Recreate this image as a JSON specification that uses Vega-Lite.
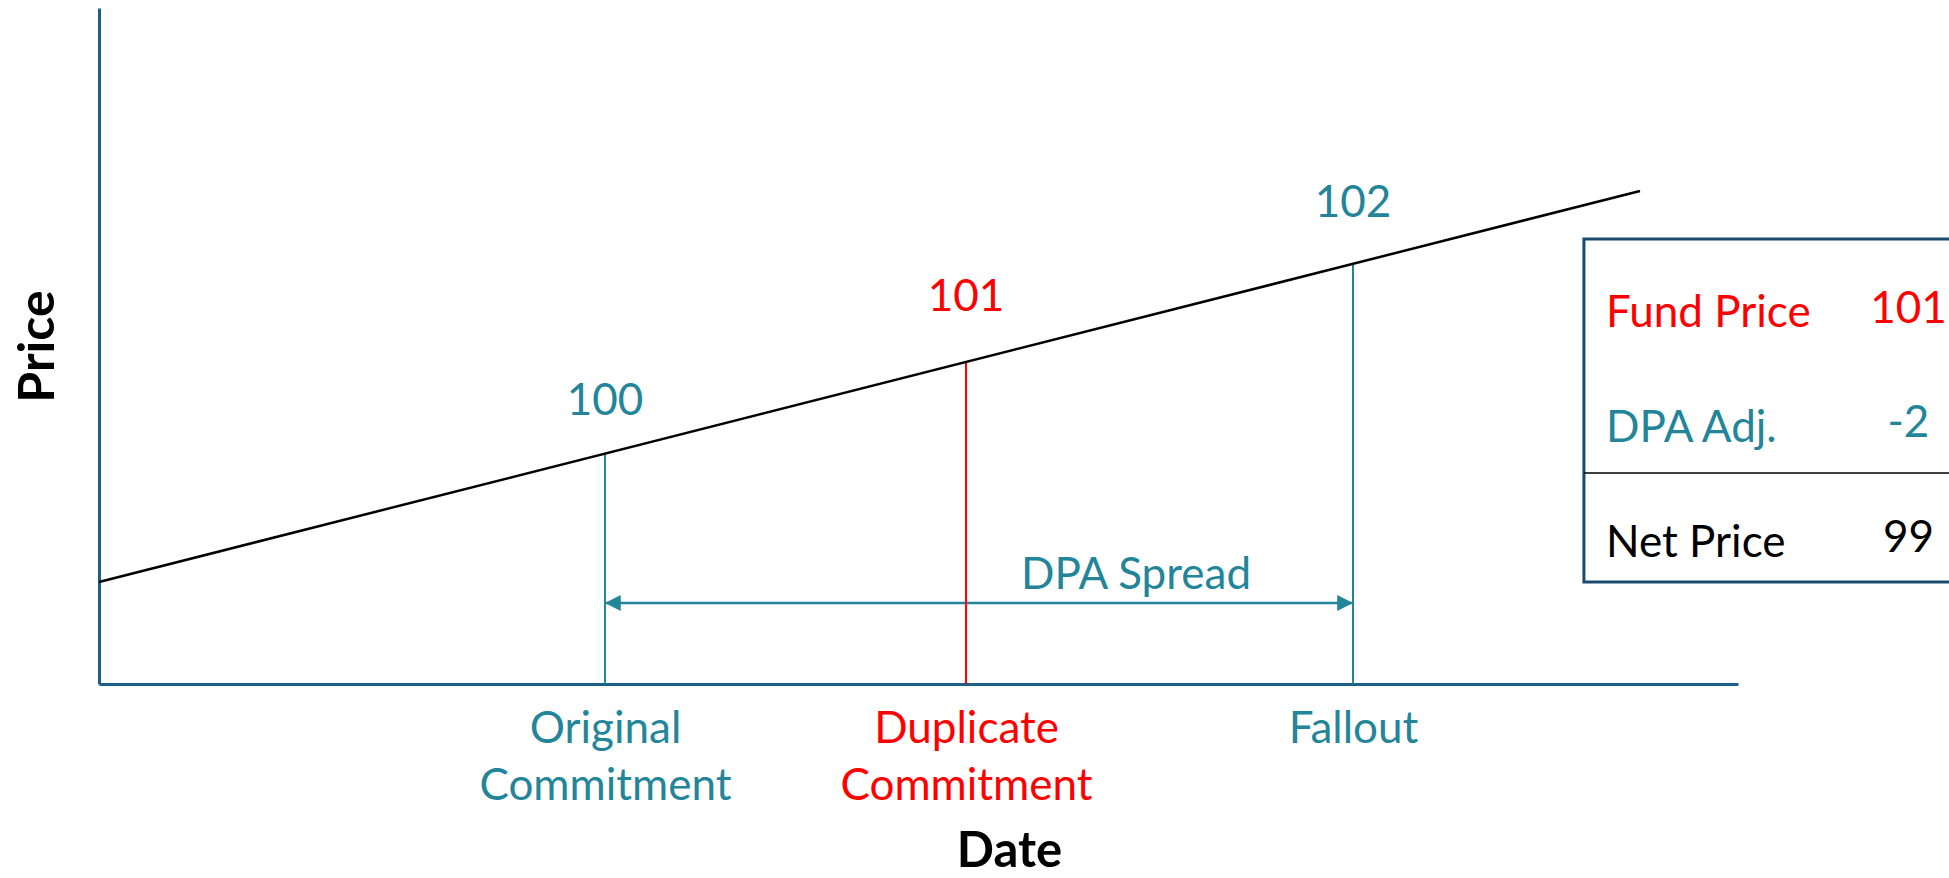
{
  "$schema": "https://vega.github.io/schema/vega-lite/v6.json",
  "width": 1639,
  "height": 676,
  "autosize": {"type": "none"},
  "padding": {"left": 99, "top": 8, "right": 211, "bottom": 194},
  "background": "white",
  "config": {"view": {"stroke": null}, "font": "Lato", "text": {"font": "Lato"}},
  "datasets": {
    "priceLine": [{"date": 0, "price": 98.617}, {"date": 94.02, "price": 102.897}],
    "events": [
      {"event": "Original Commitment", "group": "Original", "date": 30.87, "price": 100.03, "labelPrice": 100.445, "label": "100"},
      {"event": "Duplicate Commitment", "group": "Duplicate", "date": 52.9, "price": 101.025, "labelPrice": 101.578, "label": "101"},
      {"event": "Fallout", "group": "Fallout", "date": 76.51, "price": 102.098, "labelPrice": 102.612, "label": "102"}
    ],
    "spread": [{"from": 30.87, "to": 76.51, "price": 98.387, "label": "DPA Spread", "labelDate": 63.27, "labelPrice": 98.54}],
    "heads": [{"date": 30.87, "price": 98.387, "side": "left"}, {"date": 76.51, "price": 98.387, "side": "right"}],
    "table": [
      {"item": "Fund Price", "value": "101", "group": "Duplicate", "itemPrice": 101.408, "valuePrice": 101.452},
      {"item": "DPA Adj.", "value": "-2", "group": "Fallout", "itemPrice": 100.149, "valuePrice": 100.204},
      {"item": "Net Price", "value": "99", "group": "Net", "itemPrice": 98.89, "valuePrice": 98.945}
    ],
    "box": [{"left": 90.6, "right": 113.5, "top": 102.371, "bottom": 98.617, "divider": 99.81}]
  },
  "layer": [
    {
      "data": {"name": "spread"},
      "mark": {"type": "rule", "color": "#23859a", "strokeWidth": 2.5},
      "encoding": {
        "x": {"field": "from", "type": "quantitative", "scale": {"domain": [0, 100], "nice": false, "zero": false},
          "axis": {
            "title": "Date",
            "values": [30.87, 52.9, 76.51],
            "labelExpr": "datum.value < 40 ? ['Original', 'Commitment'] : datum.value < 60 ? ['Duplicate', 'Commitment'] : 'Fallout'",
            "ticks": false, "grid": false,
            "domainColor": "#1c5f8a", "domainWidth": 3,
            "labelFont": "Lato", "labelFontSize": 44, "labelLineHeight": 57, "labelPadding": 23, "labelLimit": 0,
            "labelBaseline": "top", "labelAlign": "center", "labelOverlap": false, "labelFlush": false,
            "labelColor": {"condition": {"test": "datum.value > 40 && datum.value < 60", "value": "#ff0000"}, "value": "#23859a"},
            "titleFont": "Lato", "titleFontSize": 49, "titleFontWeight": "bold", "titleColor": "#000000",
            "titleX": 910, "titleY": 182, "titleBaseline": "alphabetic", "titleAlign": "center"
          }},
        "x2": {"field": "to"},
        "y": {"field": "price", "type": "quantitative", "scale": {"domain": [97.5, 104.9], "nice": false, "zero": false},
          "axis": {
            "title": "Price", "labels": false, "ticks": false, "grid": false,
            "domainColor": "#1c5f8a", "domainWidth": 3,
            "titleFont": "Lato", "titleFontSize": 50, "titleFontWeight": "bold", "titleColor": "#000000",
            "titleX": -46, "titleY": 338, "titleAngle": -90, "titleBaseline": "alphabetic", "titleAlign": "center"
          }}
      }
    },
    {
      "data": {"name": "heads"},
      "mark": {"type": "point", "filled": true, "size": 250, "opacity": 1, "color": "#23859a", "strokeWidth": 0},
      "encoding": {
        "x": {"field": "date", "type": "quantitative"},
        "y": {"field": "price", "type": "quantitative"},
        "shape": {"field": "side", "type": "nominal", "legend": null,
          "scale": {"domain": ["left", "right"], "range": ["M0,0L2,-1L2,1Z", "M0,0L-2,-1L-2,1Z"]}}
      }
    },
    {
      "data": {"name": "events"},
      "mark": {"type": "rule", "strokeWidth": 2},
      "encoding": {
        "x": {"field": "date", "type": "quantitative"},
        "y": {"field": "price", "type": "quantitative"},
        "y2": {"datum": 97.5},
        "color": {"field": "group", "type": "nominal", "legend": null,
          "scale": {"domain": ["Original", "Duplicate", "Fallout", "Net"], "range": ["#23859a", "#ff0000", "#23859a", "#000000"]}}
      }
    },
    {
      "data": {"name": "priceLine"},
      "mark": {"type": "line", "color": "#000000", "strokeWidth": 2.5},
      "encoding": {
        "x": {"field": "date", "type": "quantitative"},
        "y": {"field": "price", "type": "quantitative"}
      }
    },
    {
      "data": {"name": "events"},
      "mark": {"type": "text", "font": "Lato", "fontSize": 44, "align": "center", "baseline": "alphabetic"},
      "encoding": {
        "x": {"field": "date", "type": "quantitative"},
        "y": {"field": "labelPrice", "type": "quantitative"},
        "text": {"field": "label"},
        "color": {"field": "group", "type": "nominal", "legend": null,
          "scale": {"domain": ["Original", "Duplicate", "Fallout", "Net"], "range": ["#23859a", "#ff0000", "#23859a", "#000000"]}}
      }
    },
    {
      "data": {"name": "spread"},
      "mark": {"type": "text", "font": "Lato", "fontSize": 44, "align": "center", "baseline": "alphabetic", "color": "#23859a"},
      "encoding": {
        "x": {"field": "labelDate", "type": "quantitative"},
        "y": {"field": "labelPrice", "type": "quantitative"},
        "text": {"field": "label"}
      }
    },
    {
      "data": {"name": "box"},
      "mark": {"type": "rect", "filled": false, "stroke": "#1a4a6e", "strokeWidth": 3},
      "encoding": {
        "x": {"field": "left", "type": "quantitative"},
        "x2": {"field": "right"},
        "y": {"field": "top", "type": "quantitative"},
        "y2": {"field": "bottom"}
      }
    },
    {
      "data": {"name": "box"},
      "mark": {"type": "rule", "color": "#000000", "strokeWidth": 1.5},
      "encoding": {
        "x": {"field": "left", "type": "quantitative"},
        "x2": {"field": "right"},
        "y": {"field": "divider", "type": "quantitative"}
      }
    },
    {
      "data": {"name": "table"},
      "mark": {"type": "text", "font": "Lato", "fontSize": 44, "align": "left", "baseline": "alphabetic"},
      "encoding": {
        "x": {"datum": 91.95, "type": "quantitative"},
        "y": {"field": "itemPrice", "type": "quantitative"},
        "text": {"field": "item"},
        "color": {"field": "group", "type": "nominal", "legend": null,
          "scale": {"domain": ["Original", "Duplicate", "Fallout", "Net"], "range": ["#23859a", "#ff0000", "#23859a", "#000000"]}}
      }
    },
    {
      "data": {"name": "table"},
      "mark": {"type": "text", "font": "Lato", "fontSize": 44, "align": "center", "baseline": "alphabetic"},
      "encoding": {
        "x": {"datum": 110.4, "type": "quantitative"},
        "y": {"field": "valuePrice", "type": "quantitative"},
        "text": {"field": "value"},
        "color": {"field": "group", "type": "nominal", "legend": null,
          "scale": {"domain": ["Original", "Duplicate", "Fallout", "Net"], "range": ["#23859a", "#ff0000", "#23859a", "#000000"]}}
      }
    }
  ]
}
